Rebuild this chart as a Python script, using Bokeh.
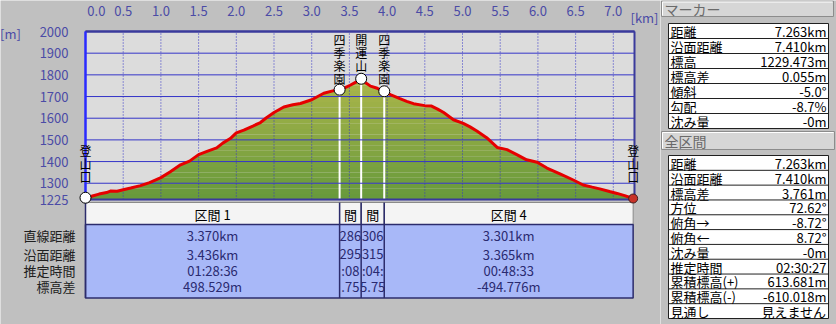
import numpy as np
from bokeh.plotting import figure
from bokeh.layouts import row
from bokeh.models import Range1d, FixedTicker, LinearAxis
from bokeh.core.properties import value
from bokeh.embed import file_html
from bokeh.resources import INLINE

# ---------------- data ----------------
dist_km = [0.00, 0.08, 0.18, 0.28, 0.33, 0.42, 0.50, 0.60, 0.73, 0.85, 1.00, 1.12, 1.26, 1.38,
           1.50, 1.62, 1.74, 1.82, 1.92, 2.00, 2.10, 2.22, 2.32, 2.40, 2.50, 2.63, 2.75, 2.85,
           3.00, 3.16, 3.28, 3.370, 3.45, 3.51, 3.58, 3.656, 3.72, 3.78, 3.87, 3.962, 4.05,
           4.17, 4.26, 4.35, 4.50, 4.59, 4.67, 4.75, 4.88, 5.01, 5.10, 5.19, 5.32, 5.46, 5.59,
           5.72, 5.85, 5.99, 6.12, 6.30, 6.47, 6.60, 6.72, 6.82, 6.95, 7.05, 7.15, 7.263]
elev_m = [1233.2, 1240, 1250, 1257, 1264, 1263, 1270, 1278, 1289, 1303, 1326, 1352, 1385, 1402,
          1432, 1448, 1463, 1485, 1506, 1532, 1545, 1564, 1580, 1602, 1626, 1652, 1662, 1668,
          1685, 1715, 1726, 1731.7, 1742, 1752, 1765, 1782, 1762, 1748, 1738, 1724.2, 1708,
          1690, 1678, 1667, 1658, 1656, 1642, 1626, 1593, 1576, 1560, 1541, 1510, 1465, 1455,
          1432, 1408, 1397, 1370, 1342, 1315, 1292, 1282, 1274, 1262, 1253, 1243, 1229.5]

wp_km = [0.0, 3.370, 3.656, 3.962, 7.263]
wp_names = ["登山口", "四季楽園", "開運山", "四季楽園", "登山口"]

x_ticks = [0.0, 0.5, 1.0, 1.5, 2.0, 2.5, 3.0, 3.5, 4.0, 4.5, 5.0, 5.5, 6.0, 6.5, 7.0]
y_ticks = [1225, 1300, 1400, 1500, 1600, 1700, 1800, 1900, 2000]
x_unit = "[km]"
y_unit = "[m]"

seg_km = [0.0, 3.370, 3.656, 3.962, 7.263]
seg_names = ["区間 1", "間", "間", "区間 4"]
seg_rows = ["直線距離", "沿面距離", "推定時間", "標高差"]
seg_values = [["3.370km", "3.436km", "01:28:36", "498.529m"],
              ["286", "295", ":08", ".75"],
              ["306", "315", ":04:", "5.75"],
              ["3.301km", "3.365km", "00:48:33", "-494.776m"]]

marker_title = "マーカー"
marker_labels = ["距離", "沿面距離", "標高", "標高差", "傾斜", "勾配", "沈み量"]
marker_values = ["7.263km", "7.410km", "1229.473m", "0.055m", "-5.0°", "-8.7%", "-0m"]
total_title = "全区間"
total_labels = ["距離", "沿面距離", "標高差", "方位", "俯角→", "俯角←", "沈み量", "推定時間",
                "累積標高(+)", "累積標高(-)", "見通し"]
total_values = ["7.263km", "7.410km", "3.761m", "72.62°", "-8.72°", "8.72°", "-0m", "02:30:27",
                "613.681m", "-610.018m", "見えません"]

# ---------------- style / geometry ----------------
BG = "#c0c0c0"
PLOT_BG = "#dcdcdc"
FONT = "Noto Sans CJK JP"
BLUE_TXT = "#4b4ba6"
GRID = "#3434c8"
NAVY = "#3a3a9c"
TAB_LINE = "#2c2c6c"
Y0, Y1 = 1225, 2000
X_END = 7.281
MAIN_W, H = 660, 324
LEFT, TOP, BOTTOM = 85, 31, 199
PXK = 549 / X_END                 # px per km
PXM = (BOTTOM - TOP) / (Y1 - Y0)  # px per m


def px_x(px):
    return (px - LEFT) / PXK


def py_y(py):
    return Y1 - (py - TOP) / PXM


dist = np.array(dist_km)
elev = np.array(elev_m)
wp_elev = [float(elev[np.argmin(np.abs(dist - k))]) for k in wp_km]

# ---------------- main figure (profile + section table) ----------------
main = figure(width=MAIN_W, height=H, x_range=Range1d(px_x(0), px_x(MAIN_W)),
              y_range=Range1d(py_y(H), py_y(0)), x_axis_location=None,
              y_axis_location=None, toolbar_location=None, output_backend="svg",
              background_fill_color=BG, border_fill_color=BG, min_border=0)
main.extra_y_ranges = {"tab": Range1d(H, 0)}   # table rows in pixel rows from the top
main.outline_line_color = None
main.grid.visible = False

# plot area
main.quad(left=0, right=X_END, bottom=Y0, top=Y1, fill_color=PLOT_BG, line_color=None)

# gradient fill: horizontal colour bands, then mask above the profile
band_lo = np.arange(Y0, 1825, 25)
band_hi = band_lo + 25
c_lo = np.array([104, 154, 60])
c_hi = np.array([176, 184, 76])
band_cols = []
for lo in band_lo:
    t = min(max((lo - Y0) / (1800 - Y0), 0), 1)
    c = (c_lo + (c_hi - c_lo) * t).astype(int)
    band_cols.append("#%02x%02x%02x" % tuple(c))
main.quad(left=0, right=dist_km[-1], bottom=band_lo, top=band_hi, fill_color=band_cols,
          line_color=None)
main.varea(x=dist_km, y1=elev_m, y2=Y1, fill_color=PLOT_BG)

# white drop lines from the markers
main.segment(x0=wp_km[1:4], y0=wp_elev[1:4], x1=wp_km[1:4], y1=Y0, line_color="white",
             line_width=2)

# grid lines, limited to the plot area, drawn over the fill
gx = main.segment(x0=x_ticks, y0=Y0, x1=x_ticks, y1=Y1, line_color=GRID, line_width=1,
                  line_dash="1 2")
gx.level = "guide"
gy = main.segment(x0=0, y0=y_ticks, x1=X_END, y1=y_ticks, line_color=GRID, line_width=1)
gy.level = "guide"

# axes fixed on the plot-area edges
ov = {t: "%.1f" % t for t in x_ticks}
ov[0.0] = "\u3000\u00a0\u00a0\u00a00.0"
xax = LinearAxis(fixed_location=Y1, ticker=FixedTicker(ticks=x_ticks), bounds=(0, X_END),
                 major_label_overrides=ov)
yax = LinearAxis(fixed_location=0, ticker=FixedTicker(ticks=y_ticks), bounds=(Y0, Y1))
for ax in (xax, yax):
    ax.major_tick_line_color = None
    ax.minor_tick_line_color = None
    ax.major_label_text_font = FONT
    ax.major_label_text_font_size = "13px"
    ax.major_label_text_color = BLUE_TXT
xax.axis_line_color = NAVY
xax.axis_line_width = 2
xax.major_label_standoff = 6
yax.axis_line_color = "#2a2aff"
yax.axis_line_width = 2
yax.major_label_standoff = 11
main.add_layout(xax, "above")
main.add_layout(yax, "left")

# frame border (top, right, bottom) and bright left edge
fr = main.segment(x0=[0, X_END, 0], y0=[Y1, Y1, Y0], x1=[X_END, X_END, X_END], y1=[Y1, Y0, Y0],
                  line_color=NAVY, line_width=2)
fr.level = "annotation"
lb = main.segment(x0=[0], y0=[Y0], x1=[0], y1=[Y1], line_color="#2a2aff", line_width=2)
lb.level = "annotation"

# profile line and markers
ln = main.line(dist_km, elev_m, line_color="#e60000", line_width=3)
ln.level = "annotation"
mk = main.scatter(wp_km[:4], wp_elev[:4], size=11, fill_color="white", line_color="black",
                  line_width=1)
mk.level = "annotation"
en = main.scatter([wp_km[4]], [wp_elev[4]], size=9, fill_color="#c83228", line_color="#402020")
en.level = "annotation"

# vertical waypoint names, one character per line
cx, cy, ct = [], [], []
for i, (k, n) in enumerate(zip(wp_km, wp_names)):
    first = 150 if i in (0, 4) else 38.5
    for j, ch in enumerate(n):
        cx.append(k)
        cy.append(py_y(first + 13 * j))
        ct.append(ch)
vt = main.text(x=cx, y=cy, text=ct, text_align="center", text_baseline="middle",
               text_font=value(FONT), text_font_size="12px", text_color="black")
vt.level = "annotation"

# unit labels
ut = main.text(x=[px_x(10), px_x(644)], y=[py_y(33), py_y(17)], text=[y_unit, x_unit],
               text_align="center", text_baseline="middle", text_font=value(FONT),
               text_font_size="13px", text_color=BLUE_TXT)
ut.level = "annotation"

# ---- section table (x in km, y in pixel rows) ----
HDR_T, HDR_B, BODY_B = 202, 224, 297.5
row_y = [235, 253.5, 270, 286]
main.quad(left=seg_km[:-1], right=seg_km[1:], top=HDR_T, bottom=HDR_B, fill_color="#f4f4f4",
          line_color="#8a8a8a", line_width=1, y_range_name="tab")
main.quad(left=0, right=seg_km[-1], top=HDR_B, bottom=BODY_B, fill_color="#a8b8f8",
          line_color=TAB_LINE, line_width=1.5, y_range_name="tab")
main.segment(x0=seg_km[1:4], y0=HDR_T, x1=seg_km[1:4], y1=BODY_B, line_color=TAB_LINE,
             line_width=1.5, y_range_name="tab")
main.segment(x0=[0], y0=[HDR_T], x1=[0], y1=[BODY_B], line_color=TAB_LINE, line_width=1.5,
             y_range_name="tab")
seg_cx = [(a + b) / 2 for a, b in zip(seg_km[:-1], seg_km[1:])]
main.text(x=seg_cx, y=[(HDR_T + HDR_B) / 2 + 1] * 4, text=seg_names, text_align="center",
          text_baseline="middle", text_font=value(FONT), text_font_size="13px",
          text_color="black", y_range_name="tab")
tx, ty, tt = [], [], []
for i, vals in enumerate(seg_values):
    for j, v in enumerate(vals):
        tx.append(seg_cx[i]); ty.append(row_y[j]); tt.append(v)
main.text(x=tx, y=ty, text=tt, text_align="center", text_baseline="middle",
          text_font=value(FONT), text_font_size="13px", text_color="#2a2a70",
          y_range_name="tab")
main.text(x=[px_x(75)] * 4, y=row_y, text=seg_rows, text_align="right", text_baseline="middle",
          text_font=value(FONT), text_font_size="13px", text_color="#202020",
          y_range_name="tab")

# ---------------- side panel ----------------
side = figure(width=176, height=H, x_range=Range1d(0, 176), y_range=Range1d(H, 0),
              x_axis_location=None, y_axis_location=None, toolbar_location=None,
              output_backend="svg", background_fill_color=BG, border_fill_color=BG,
              min_border=0)
side.outline_line_color = None
side.grid.visible = False


def header(x0, x1, y0, y1, title):
    side.quad(left=x0, right=x1, top=y0, bottom=y1, fill_color="#d6d6d6", line_color="#8c8c8c")
    side.segment(x0=[x0 + 1, x0 + 1], y0=[y0 + 1, y0 + 1], x1=[x1 - 1, x0 + 1],
                 y1=[y0 + 1, y1 - 1], line_color="white", line_width=1)
    side.text(x=[x0 + 3], y=[(y0 + y1) / 2 + 0.5], text=[title], text_align="left",
              text_baseline="middle", text_font=value(FONT), text_font_size="14px",
              text_color="#6a6a6a")


def table(x0, x1, y0, y1, labels, values):
    n = len(labels)
    h = (y1 - y0) / n
    side.quad(left=x0, right=x1, top=y0, bottom=y1, fill_color="white", line_color="#202020")
    ys = [y0 + h * i for i in range(1, n)]
    side.segment(x0=x0, y0=ys, x1=x1, y1=ys, line_color="#202020", line_width=1)
    cy = [y0 + h * (i + 0.5) + 0.5 for i in range(n)]
    side.text(x=[x0 + 2] * n, y=cy, text=labels, text_align="left", text_baseline="middle",
              text_font=value(FONT), text_font_size="13px", text_color="black")
    side.text(x=[x1 - 2] * n, y=cy, text=values, text_align="right", text_baseline="middle",
              text_font=value(FONT), text_font_size="13px", text_color="black")


header(1, 173, 0.5, 16, marker_title)
table(8, 168, 23, 128, marker_labels, marker_values)
header(1, 174, 131, 149, total_title)
table(8, 168, 155, 318, total_labels, total_values)

layout = row(main, side)
open("out.html", "w").write(file_html(layout, INLINE))
